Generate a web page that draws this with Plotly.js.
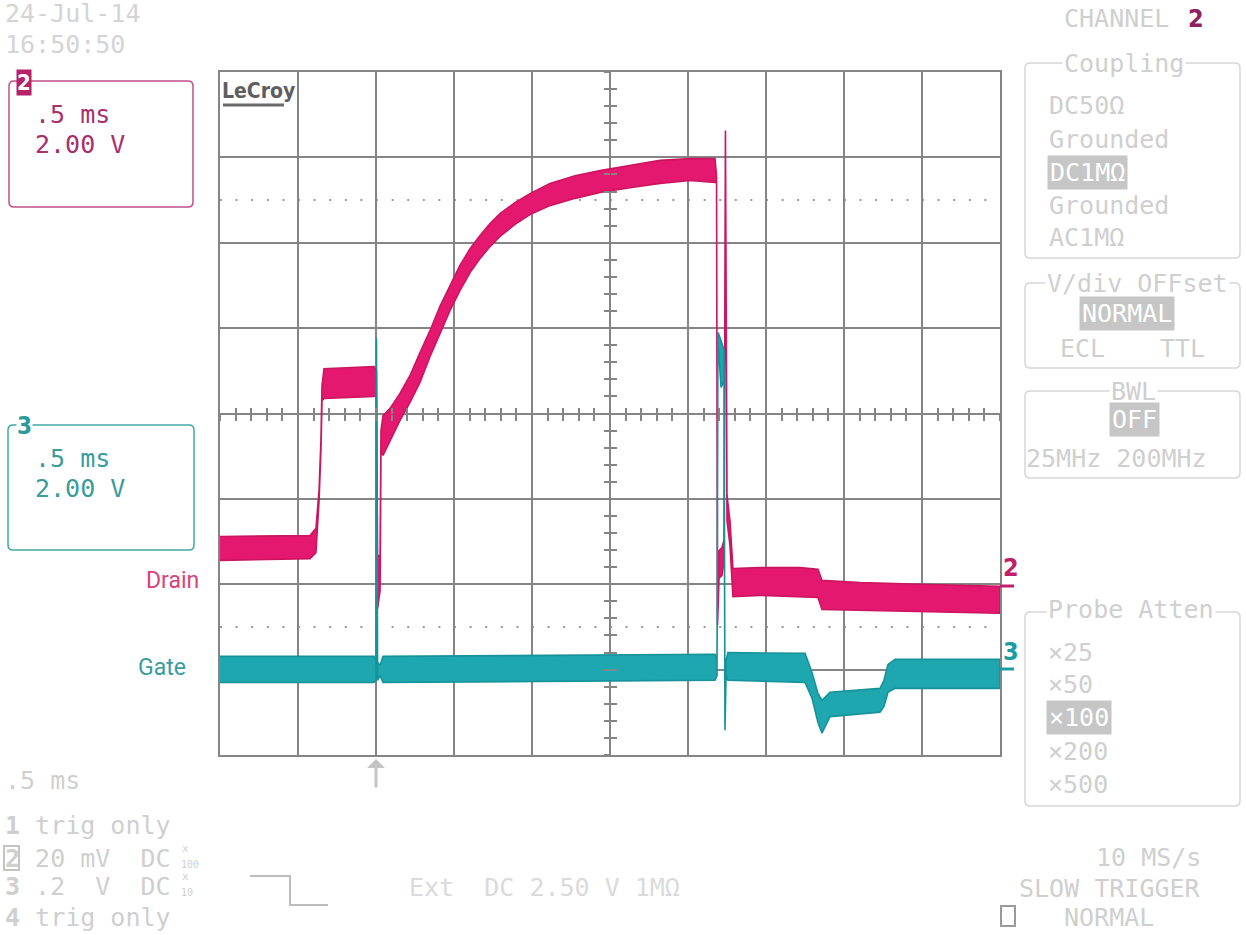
<!DOCTYPE html>
<html><head><meta charset="utf-8">
<script src="https://cdn.plot.ly/plotly-3.0.1.min.js"></script>
<style>html,body{margin:0;padding:0;background:#fff}#chart{width:1246px;height:935px}</style>
</head><body><div id="chart"></div>
<script>
// Channel 2 (Drain): time in ms, upper / lower edge of the noisy trace in V (2 V/div)
const drainTime  = [0, 0.577, 0.615, 0.635, 0.647, 0.654, 0.667, 0.987, 1.003, 1.010, 1.026, 1.032, 1.045, 1.090, 1.154, 1.218, 1.282, 1.346, 1.410, 1.474, 1.538, 1.603, 1.667, 1.731, 1.795, 1.891, 1.987, 2.115, 2.276, 2.436, 2.628, 2.821, 3.013, 3.173, 3.183, 3.189, 3.199, 3.218, 3.231, 3.240, 3.250, 3.269, 3.288, 3.462, 3.718, 3.833, 3.859, 4.103, 4.487, 5.0];
const drainUpper = [-2.88, -2.86, -2.69, -1.80, -0.63, 0.66, 1.05, 1.10, 1.01, -3.33, -3.33, -0.40, -0.05, 0.12, 0.47, 0.89, 1.43, 1.94, 2.51, 3.00, 3.47, 3.86, 4.17, 4.45, 4.68, 4.94, 5.15, 5.39, 5.57, 5.69, 5.81, 5.93, 5.97, 5.97, 5.57, -4.73, -3.21, -3.14, -2.97, 6.63, -1.92, -2.51, -3.63, -3.61, -3.61, -3.65, -3.91, -3.96, -4.00, -4.05];
const drainLower = [-3.44, -3.40, -3.26, -2.04, -0.87, 0.30, 0.35, 0.40, 0.42, -4.57, -4.15, -0.87, -0.98, -0.63, -0.16, 0.26, 0.73, 1.33, 1.87, 2.41, 2.88, 3.30, 3.63, 3.91, 4.15, 4.43, 4.66, 4.87, 5.04, 5.18, 5.29, 5.39, 5.46, 5.41, 5.41, -4.96, -3.86, -3.79, -3.44, 6.51, -2.51, -3.09, -4.29, -4.26, -4.29, -4.31, -4.59, -4.61, -4.64, -4.68];

// Channel 3 (Gate)
const gateTime  = [0, 0.987, 1.000, 1.003, 1.010, 1.026, 1.045, 3.173, 3.186, 3.192, 3.212, 3.231, 3.237, 3.244, 3.256, 3.750, 3.795, 3.833, 3.859, 3.910, 4.231, 4.256, 4.282, 4.327, 5.0];
const gateUpper = [-5.69, -5.69, -5.78, 1.76, -5.83, -5.90, -5.69, -5.64, -5.78, 1.90, 1.71, 1.48, -7.31, -5.78, -5.60, -5.62, -6.07, -6.56, -6.72, -6.53, -6.44, -6.25, -5.88, -5.76, -5.76];
const gateLower = [-6.30, -6.30, -6.25, 1.59, -6.25, -6.14, -6.30, -6.25, -6.14, 1.71, 0.61, 0.77, -7.42, -6.14, -6.25, -6.30, -6.67, -7.24, -7.49, -7.10, -7.00, -6.86, -6.53, -6.44, -6.44];

const timeRange = [0, 5];      // 10 div x 0.5 ms
const voltRange = [-8, 8];     // 8 div x 2.00 V
const triggerTime = 1.0;

const MONO = '"DejaVu Sans Mono", "Liberation Mono", monospace';
const SANS = 'Roboto, "DejaVu Sans", sans-serif';
const COND = '"DejaVu Sans Condensed", "DejaVu Sans", sans-serif';
const GRAY = '#cfcfcf';
const GRID = '#858585';
const W = 1246, H = 935, L = 220, R = 246, T = 72, B = 180;
const PW = W - L - R, PH = H - T - B;
const px = v => (v - L) / PW;
const py = v => (H - B - v) / PH;

function band(t, up, lo, fill, line) {
  return {
    x: t.concat(t.slice().reverse()),
    y: up.concat(lo.slice().reverse()),
    type: 'scatter', mode: 'lines', fill: 'toself', fillcolor: fill,
    line: {color: line, width: 1.6}, hoverinfo: 'skip'
  };
}

const traces = [
  band(drainTime, drainUpper, drainLower, '#e5186f', '#cc1560'),
  band(gateTime, gateUpper, gateLower, '#1ea7ae', '#16929b'),
  {x: [], y: [], xaxis: 'x2', yaxis: 'y2', type: 'scatter'},
  {x: [], y: [], xaxis: 'x3', yaxis: 'y3', type: 'scatter'}
];

function txt(s, x, y, o) {
  o = o || {};
  const a = {
    text: s, xref: 'paper', yref: 'paper', x: px(x), y: py(y),
    xanchor: o.anchor || 'left', yanchor: 'middle', showarrow: false,
    font: {family: o.family || MONO, size: o.size || 25, color: o.color || GRAY}
  };
  if (o.bg) { a.bgcolor = o.bg; a.borderpad = o.pad === undefined ? 1 : o.pad; }
  return a;
}
function hl(s, x, y) { return txt(s, x, y, {bg: '#c6c6c6', color: '#ffffff', pad: 2}); }

function rrect(x0, y0, x1, y1, r, color, w) {
  const rx = r / PW, ry = r / PH;
  const X0 = px(x0), X1 = px(x1), Y0 = py(y0), Y1 = py(y1);
  const p = `M ${X0 + rx},${Y0} L ${X1 - rx},${Y0} Q ${X1},${Y0} ${X1},${Y0 - ry} L ${X1},${Y1 + ry} Q ${X1},${Y1} ${X1 - rx},${Y1} L ${X0 + rx},${Y1} Q ${X0},${Y1} ${X0},${Y1 + ry} L ${X0},${Y0 - ry} Q ${X0},${Y0} ${X0 + rx},${Y0} Z`;
  return {type: 'path', xref: 'paper', yref: 'paper', path: p, line: {color: color, width: w || 1.5}, layer: 'above'};
}
function pline(x0, y0, x1, y1, color, w) {
  return {type: 'line', xref: 'paper', yref: 'paper', x0: px(x0), y0: py(y0), x1: px(x1), y1: py(y1), line: {color: color, width: w}};
}

const annotations = [
  txt('24-Jul-14', 3, 14, {color: '#d4d4d4'}),
  txt('16:50:50', 3, 44, {color: '#d4d4d4'}),
  txt('CHANNEL', 1062, 19),
  txt('<b>2</b>', 1186, 19, {family: COND, size: 25, color: '#8e2160'}),
  // coupling
  txt('Coupling', 1062, 63, {bg: '#ffffff'}),
  txt('DC50Ω', 1047, 106), txt('Grounded', 1047, 139), hl('DC1MΩ', 1047, 172),
  txt('Grounded', 1047, 205), txt('AC1MΩ', 1047, 238),
  txt('V/div OFFset', 1045, 283, {bg: '#ffffff'}),
  hl('NORMAL', 1079, 313), txt('ECL', 1058, 348), txt('TTL', 1158, 348),
  txt('BWL', 1109, 391, {bg: '#ffffff'}),
  hl('OFF', 1109, 419), txt('25MHz 200MHz', 1024, 458),
  txt('Probe Atten', 1046, 609, {bg: '#ffffff'}),
  txt('×25', 1046, 652), txt('×50', 1046, 684), hl('×100', 1046, 717), txt('×200', 1046, 751), txt('×500', 1046, 784),
  // channel boxes
  txt('<b>2</b>', 16, 83, {family: COND, size: 22, color: '#ffffff', bg: '#b5226a', pad: 0}),
  txt('.5 ms', 33, 115, {color: '#a8306e'}),
  txt('2.00 V', 33, 144, {color: '#a8306e'}),
  txt('<b>3</b>', 16, 426, {family: COND, size: 24, color: '#2a9a9c', bg: '#ffffff', pad: 0}),
  txt('.5 ms', 33, 458, {color: '#3a9c9c'}),
  txt('2.00 V', 33, 488, {color: '#3a9c9c'}),
  txt('Drain', 201, 580, {anchor: 'right', family: SANS, size: 23, color: '#d8437c'}),
  txt('Gate', 188, 667, {anchor: 'right', family: SANS, size: 23, color: '#3a9ca2'}),
  txt('<b>2</b>', 1001, 567, {family: COND, size: 25, color: '#c01f6b'}),
  txt('<b>3</b>', 1001, 651, {family: COND, size: 25, color: '#1a9ca2'}),
  txt('<b>LeCroy</b>', 220, 91, {family: COND, size: 21, color: '#5e5e5e'}),
  // bottom left
  txt('.5 ms', 3, 780),
  txt('<b>1</b> trig only', 3, 825),
  txt('<b>2</b> 20 mV  DC', 3, 858),
  txt('<b>3</b> .2  V  DC', 3, 886),
  txt('<b>4</b> trig only', 3, 917),
  txt('x', 180, 848, {size: 11}), txt('100', 179, 864, {size: 10}),
  txt('x', 180, 876, {size: 11}), txt('10', 179, 892, {size: 10}),
  txt('Ext  DC 2.50 V 1MΩ', 407, 887, {color: '#dadada'}),
  // bottom right
  txt('10 MS/s', 1203, 857, {anchor: 'right'}),
  txt('SLOW TRIGGER', 1203, 888, {anchor: 'right'}),
  txt('NORMAL', 1062, 917),
  // trigger arrow
  {xref: 'x', yref: 'paper', x: triggerTime, y: py(759), ax: 0, ay: 30, text: '', showarrow: true,
   arrowhead: 1, arrowsize: 1, arrowwidth: 3, arrowcolor: '#c4c4c4'}
];

const shapes = [
  {type: 'line', xref: 'x', yref: 'y', x0: timeRange[0], x1: timeRange[1], y0: 5, y1: 5, layer: 'below', line: {color: '#9a9a9a', width: 2, dash: '2px,13.6px'}},
  {type: 'line', xref: 'x', yref: 'y', x0: timeRange[0], x1: timeRange[1], y0: -5, y1: -5, layer: 'below', line: {color: '#9a9a9a', width: 2, dash: '2px,13.6px'}},
  rrect(1025, 63, 1240, 258, 5, '#d6d6d6'),
  rrect(1025, 283, 1240, 368, 5, '#d6d6d6'),
  rrect(1025, 391, 1240, 478, 5, '#d6d6d6'),
  rrect(1025, 612, 1240, 806, 5, '#d6d6d6'),
  rrect(9, 81, 193, 207, 5, '#c0508a'),
  rrect(8, 425, 194, 550, 5, '#40a8a8'),
  pline(1000, 586, 1014, 586, '#c01f6b', 3),
  pline(1000, 669, 1014, 669, '#1a9ca2', 3),
  pline(223, 105, 284, 105, '#6a6a6a', 3),
  {type: 'path', xref: 'paper', yref: 'paper', line: {color: '#bdbdbd', width: 2},
   path: `M ${px(250)},${py(876)} L ${px(290)},${py(876)} L ${px(290)},${py(905)} L ${px(328)},${py(905)}`},
  {type: 'rect', xref: 'paper', yref: 'paper', x0: px(4), x1: px(19), y0: py(846), y1: py(870), line: {color: '#c4c4c4', width: 2}},
  {type: 'rect', xref: 'paper', yref: 'paper', x0: px(1001), x1: px(1015), y0: py(906), y1: py(926), line: {color: '#9a9a9a', width: 2}}
];

const baseAxis = {showticklabels: false, zeroline: false, fixedrange: true, autorange: false};
const layout = {
  width: W, height: H, margin: {l: L, r: R, t: T, b: B, pad: 0},
  paper_bgcolor: '#ffffff', plot_bgcolor: '#ffffff', showlegend: false,
  xaxis: Object.assign({}, baseAxis, {range: timeRange, dtick: 0.5, tick0: 0, showgrid: true, gridcolor: GRID, gridwidth: 2,
    showline: true, mirror: true, linecolor: GRID, linewidth: 2, ticks: ''}),
  yaxis: Object.assign({}, baseAxis, {range: voltRange, dtick: 2, tick0: 0, showgrid: true, gridcolor: GRID, gridwidth: 2,
    showline: true, mirror: true, linecolor: GRID, linewidth: 2, ticks: ''}),
  xaxis2: Object.assign({}, baseAxis, {range: timeRange, overlaying: 'x', anchor: 'free', position: 0.5, showgrid: false, showline: false,
    ticks: 'outside', ticklen: 6, tickwidth: 2, tickcolor: GRID, dtick: 0.1, tick0: 0}),
  xaxis3: Object.assign({}, baseAxis, {range: timeRange, overlaying: 'x', anchor: 'free', position: 0.5, showgrid: false, showline: false,
    ticks: 'inside', ticklen: 6, tickwidth: 2, tickcolor: GRID, dtick: 0.1, tick0: 0}),
  yaxis2: Object.assign({}, baseAxis, {range: voltRange, overlaying: 'y', anchor: 'free', position: 0.5, showgrid: false, showline: false,
    ticks: 'outside', ticklen: 6, tickwidth: 2, tickcolor: GRID, dtick: 0.4, tick0: 0}),
  yaxis3: Object.assign({}, baseAxis, {range: voltRange, overlaying: 'y', anchor: 'free', position: 0.5, showgrid: false, showline: false,
    ticks: 'inside', ticklen: 6, tickwidth: 2, tickcolor: GRID, dtick: 0.4, tick0: 0}),
  annotations: annotations, shapes: shapes
};

Plotly.newPlot('chart', traces, layout, {staticPlot: true, displayModeBar: false});
</script></body></html>
